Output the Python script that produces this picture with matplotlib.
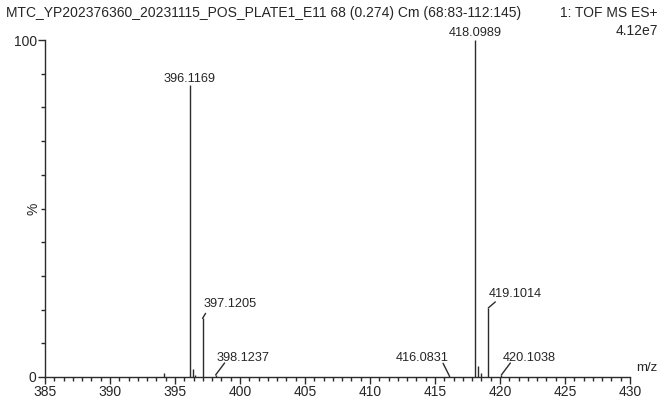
import matplotlib
matplotlib.use('agg')
import matplotlib.pyplot as plt
from matplotlib.ticker import MultipleLocator, FixedLocator

plt.rcParams['font.family'] = ['Liberation Sans', 'DejaVu Sans']

TITLE = 'MTC_YP202376360_20231115_POS_PLATE1_E11 68 (0.274) Cm (68:83-112:145)'
SCAN_INFO = '1: TOF MS ES+'
BASE_INTENSITY = '4.12e7'

# spectrum sticks (m/z, relative intensity %)
mz_values = [394.12, 396.1169, 396.35, 396.50, 397.1205, 398.1237,
             416.0831, 418.0989, 418.33, 418.50, 419.1014, 420.1038]
intensities = [1.2, 86.6, 2.4, 0.6, 17.4, 0.6,
               0.5, 100.0, 3.3, 1.3, 20.5, 0.6]

# labelled peaks
label_mz = [396.1169, 418.0989, 397.1205, 398.1237, 416.0831, 419.1014, 420.1038]
label_int = [86.6, 100.0, 17.4, 0.6, 0.5, 20.5, 0.6]
label_text = ['396.1169', '418.0989', '397.1205', '398.1237', '416.0831', '419.1014', '420.1038']
# leader end offset (px), text offset (px), alignment
label_style = [
    (None, (0, 3), 'center'),
    (None, (0, 4), 'center'),
    ((3, 5), (1, 11), 'left'),
    ((9, 12), (1, 14), 'left'),
    ((-6, 12), (0, 14), 'right'),
    ((7, 6), (0, 11), 'left'),
    ((9, 12), (1, 14), 'left'),
]

LINE_COLOR = '#2b2b2b'
TEXT_COLOR = '#262626'

fig = plt.figure(figsize=(6.68, 4.03), dpi=100)
ax = fig.add_axes([45 / 668, 26 / 403, 585 / 668, 337 / 403])

ax.vlines(mz_values, 0, intensities, color=LINE_COLOR, lw=1.0)

ax.set_xlim(385, 430)
ax.set_ylim(0, 100)

for spine in ['top', 'right']:
    ax.spines[spine].set_visible(False)
for spine in ['left', 'bottom']:
    ax.spines[spine].set_color(LINE_COLOR)
    ax.spines[spine].set_linewidth(1.0)

ax.xaxis.set_major_locator(MultipleLocator(5))
ax.xaxis.set_minor_locator(MultipleLocator(5 / 7))
ax.yaxis.set_major_locator(FixedLocator([0, 100]))
ax.yaxis.set_minor_locator(MultipleLocator(10))
ax.tick_params(axis='both', which='major', direction='out', length=5, width=1.0,
               color=LINE_COLOR, labelcolor=TEXT_COLOR, labelsize=10, pad=1)
ax.tick_params(axis='both', which='minor', direction='out', length=3, width=1.0,
               color=LINE_COLOR)

ax.set_ylabel('%', fontsize=10, color=TEXT_COLOR)
ax.yaxis.set_label_coords(-5 / 585, 0.5)
ax.text(1.01, 0.01, 'm/z', transform=ax.transAxes, ha='left', va='bottom',
        fontsize=9.5, color=TEXT_COLOR)

for mz, inten, text, style in zip(label_mz, label_int, label_text, label_style):
    leader, text_off, align = style
    if leader is not None:
        ax.annotate('', xy=(mz, inten), xytext=leader, textcoords='offset pixels',
                    arrowprops=dict(arrowstyle='-', shrinkA=0, shrinkB=0,
                                    color=LINE_COLOR, lw=1.0),
                    annotation_clip=False)
    ax.annotate(text, xy=(mz, inten), xytext=text_off, textcoords='offset pixels',
                ha=align, va='baseline', fontsize=9.2, color=TEXT_COLOR,
                annotation_clip=False)

fig.text(6 / 668, 1 - 13 / 403, TITLE, ha='left', va='center', fontsize=10, color=TEXT_COLOR)
fig.text(1 - 10 / 668, 1 - 13 / 403, SCAN_INFO, ha='right', va='center', fontsize=10, color=TEXT_COLOR)
fig.text(1 - 10 / 668, 1 - 31 / 403, BASE_INTENSITY, ha='right', va='center', fontsize=10, color=TEXT_COLOR)

fig.savefig('out.png', dpi=100)
